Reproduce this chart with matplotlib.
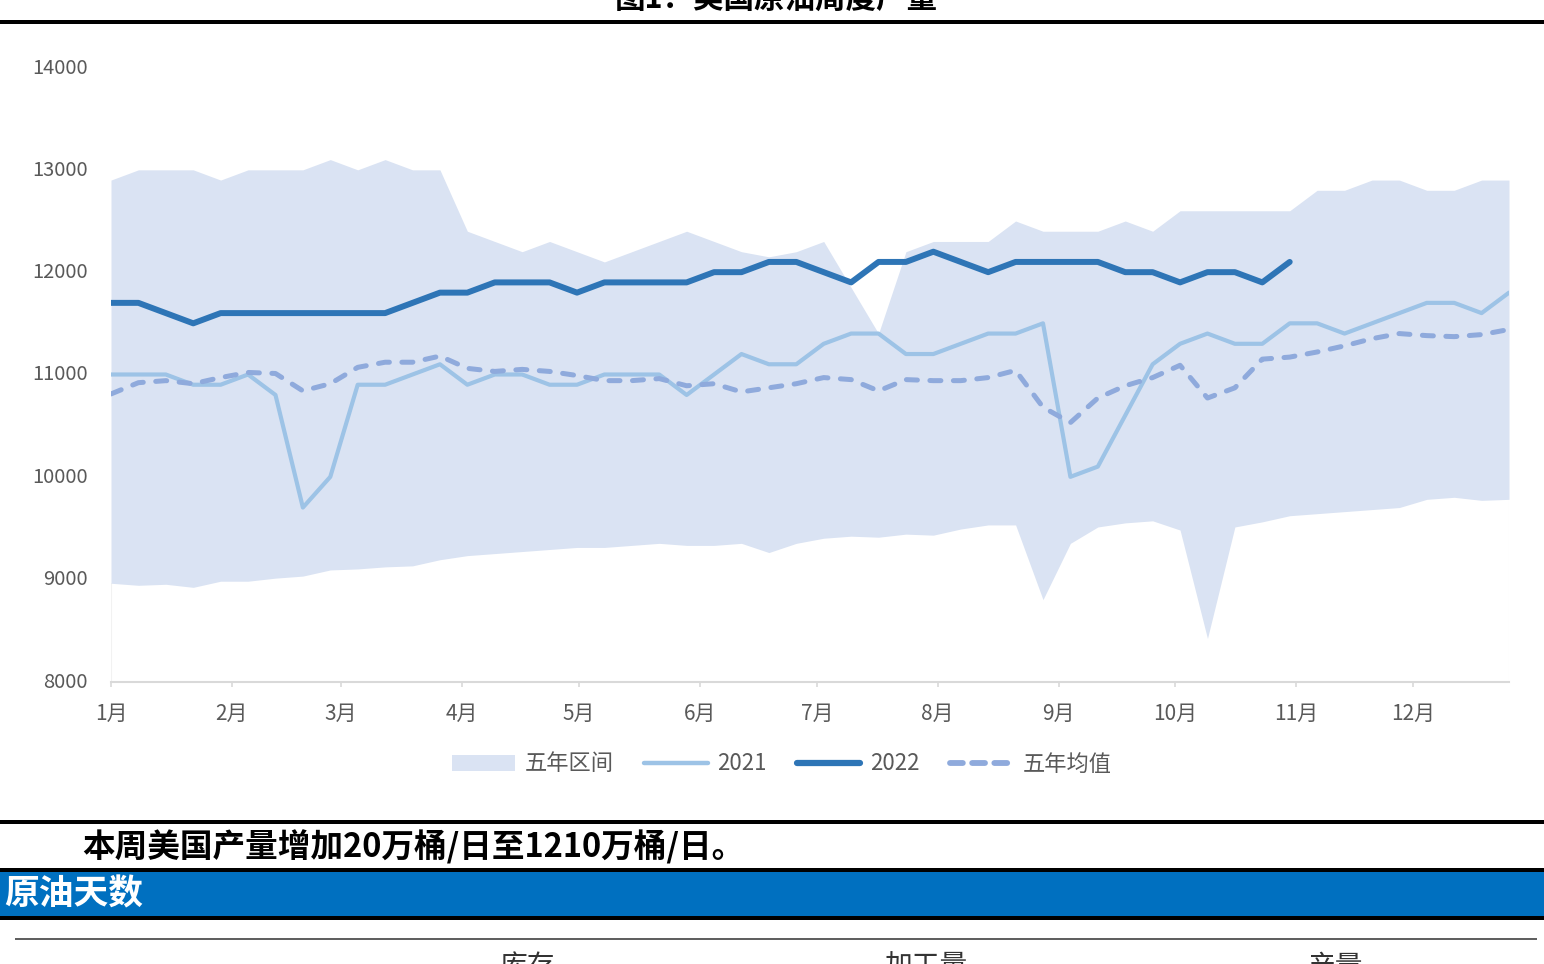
import numpy as np
import matplotlib
matplotlib.use("Agg")
import matplotlib.pyplot as plt
import matplotlib.transforms as mtransforms
from matplotlib.patches import Rectangle, Patch
from matplotlib.lines import Line2D

plt.rcParams['font.family'] = ['Noto Sans CJK SC', 'DejaVu Sans']

# ---------------- data ----------------
month_labels = ['1月', '2月', '3月', '4月', '5月', '6月', '7月', '8月', '9月', '10月', '11月', '12月']
month_start_day = [0, 31, 59, 90, 120, 151, 181, 212, 243, 273, 304, 334]

range_upper = [12900, 13000, 13000, 13000, 12900, 13000, 13000, 13000, 13100, 13000,
               13100, 13000, 13000, 12400, 12300, 12200, 12300, 12200, 12100, 12200,
               12300, 12400, 12300, 12200, 12150, 12200, 12300, 11850, 11400, 12200,
               12300, 12300, 12300, 12500, 12400, 12400, 12400, 12500, 12400, 12600,
               12600, 12600, 12600, 12600, 12800, 12800, 12900, 12900, 12800, 12800,
               12900, 12900]
range_lower = [8960, 8940, 8950, 8920, 8980, 8980, 9010, 9030, 9090, 9100,
               9120, 9130, 9190, 9230, 9250, 9270, 9290, 9310, 9310, 9330,
               9350, 9330, 9330, 9350, 9260, 9350, 9400, 9420, 9410, 9440,
               9430, 9490, 9530, 9530, 8800, 9350, 9510, 9550, 9570, 9480,
               8420, 9510, 9560, 9620, 9640, 9660, 9680, 9700, 9780, 9800,
               9770, 9780]
five_year_avg = [10810, 10920, 10940, 10910, 10970, 11020, 11010, 10840, 10910, 11070,
                 11120, 11120, 11180, 11060, 11030, 11050, 11030, 10990, 10940, 10940,
                 10960, 10890, 10910, 10830, 10870, 10910, 10970, 10950, 10840, 10950,
                 10940, 10940, 10970, 11040, 10680, 10530, 10770, 10890, 10970, 11090,
                 10770, 10870, 11150, 11170, 11220, 11280, 11350, 11400, 11380, 11370,
                 11390, 11440]
prod_2021 = [11000, 11000, 11000, 10900, 10900, 11000, 10800, 9700, 10000, 10900,
             10900, 11000, 11100, 10900, 11000, 11000, 10900, 10900, 11000, 11000,
             11000, 10800, 11000, 11200, 11100, 11100, 11300, 11400, 11400, 11200,
             11200, 11300, 11400, 11400, 11500, 10000, 10100, 10600, 11100, 11300,
             11400, 11300, 11300, 11500, 11500, 11400, 11500, 11600, 11700, 11700,
             11600, 11800]
prod_2022 = [11700, 11700, 11600, 11500, 11600, 11600, 11600, 11600, 11600, 11600,
             11600, 11700, 11800, 11800, 11900, 11900, 11900, 11800, 11900, 11900,
             11900, 11900, 12000, 12000, 12100, 12100, 12000, 11900, 12100, 12100,
             12200, 12100, 12000, 12100, 12100, 12100, 12100, 12000, 12000, 11900,
             12000, 12000, 11900, 12100]
y_ticks = [8000, 9000, 10000, 11000, 12000, 13000, 14000]

title_text = '图1：美国原油周度产量'
note_text = '本周美国产量增加20万桶/日至1210万桶/日。'
section_text = '原油天数'
table_headers = ['库存', '加工量', '产量']

# ---------------- figure ----------------
W, H = 1544, 964
fig = plt.figure(figsize=(W / 100, H / 100), dpi=100)
fig.patch.set_facecolor('white')

ax = fig.add_axes([111 / W, 1 - 681.5 / H, 1398 / W, (681.5 - 67.5) / H])

x = np.arange(len(range_upper))
x22 = np.arange(len(prod_2022))

C_AREA = '#DAE3F3'
C_2021 = '#9DC3E6'
C_2022 = '#2E75B6'
C_AVG = '#8FAADC'
C_TXT = '#595959'

ax.fill_between(x, range_lower, range_upper, color=C_AREA, lw=0, zorder=1)
# faint edges of the stacked-area base
ax.plot([x[0], x[0]], [8000, range_lower[0]], color='#F2F2F2', lw=0.8, zorder=0.5)
ax.plot([x[-1], x[-1]], [8000, range_lower[-1]], color='#F2F2F2', lw=0.8, zorder=0.5)

ax.plot(x, prod_2021, color=C_2021, lw=3.0, solid_joinstyle='round',
        solid_capstyle='round', zorder=3)
ax.plot(x22, prod_2022, color=C_2022, lw=4.3, solid_joinstyle='round',
        solid_capstyle='round', zorder=4)
ax.plot(x, five_year_avg, color=C_AVG, lw=3.6, dashes=(2.2, 2.5),
        dash_capstyle='round', dash_joinstyle='round', zorder=3.5)

ax.set_xlim(0, len(range_upper) - 1)
ax.set_ylim(8000, 14000)

ax.set_yticks(y_ticks)
ax.set_yticklabels([str(v) for v in y_ticks])
ax.set_xticks(np.array(month_start_day) / 7.03)
ax.set_xticklabels(month_labels)

for s in ['left', 'right', 'top']:
    ax.spines[s].set_visible(False)
ax.spines['bottom'].set_color('#D9D9D9')
ax.spines['bottom'].set_linewidth(1.5)
ax.tick_params(axis='y', length=0, pad=16.5, labelsize=14.5, labelcolor=C_TXT)
ax.tick_params(axis='x', length=3.5, width=1.2, color='#D9D9D9', direction='out',
               pad=12, labelsize=15, labelcolor=C_TXT)
shift_up = mtransforms.ScaledTranslation(0, 2 / 100, fig.dpi_scale_trans)
for lab in ax.get_yticklabels():
    lab.set_transform(lab.get_transform() + shift_up)
ax.set_facecolor('white')

handles = [Patch(facecolor=C_AREA, edgecolor='none'),
           Line2D([], [], color=C_2021, lw=3.2, solid_capstyle='round'),
           Line2D([], [], color=C_2022, lw=4.5, solid_capstyle='round'),
           Line2D([], [], color=C_AVG, lw=4.2, dashes=(2.2, 1.6), dash_capstyle='round')]
labels = ['五年区间', '2021', '2022', '五年均值']
leg = fig.legend(handles, labels, loc='center', bbox_to_anchor=(782 / W, 1 - 764 / H),
                 ncol=4, frameon=False, fontsize=16, handlelength=2.85,
                 handletextpad=0.45, columnspacing=1.35, labelcolor=C_TXT)

# ---------------- page decorations ----------------
def hbar(y_top_px, y_bot_px, color, x0=0.0, x1=1.0):
    fig.add_artist(Rectangle((x0, 1 - y_bot_px / H), x1 - x0, (y_bot_px - y_top_px) / H,
                             transform=fig.transFigure, facecolor=color,
                             edgecolor='none', zorder=5))

fig.text(776 / W, 1 - 8 / H, title_text, ha='center', va='baseline',
         fontsize=22, fontweight='bold', color='black')
hbar(20, 24, 'black')

hbar(820, 824, 'black')
fig.text(82 / W, 1 - 847 / H, note_text, ha='left', va='center',
         fontsize=23.5, fontweight='bold', color='black')
hbar(868, 872, 'black')
hbar(872, 916, '#0070C0')
fig.text(4 / W, 1 - 894 / H, section_text, ha='left', va='center',
         fontsize=25, fontweight='bold', color='white', zorder=6)
hbar(916, 920, 'black')
hbar(937.5, 940, '#606060', x0=15 / W, x1=1537 / W)

for cx, t in zip([527, 926, 1335], table_headers):
    fig.text(cx / W, 1 - 967 / H, t, ha='center', va='center', fontsize=20,
             color='#333333')

fig.savefig('out.png', dpi=100)
